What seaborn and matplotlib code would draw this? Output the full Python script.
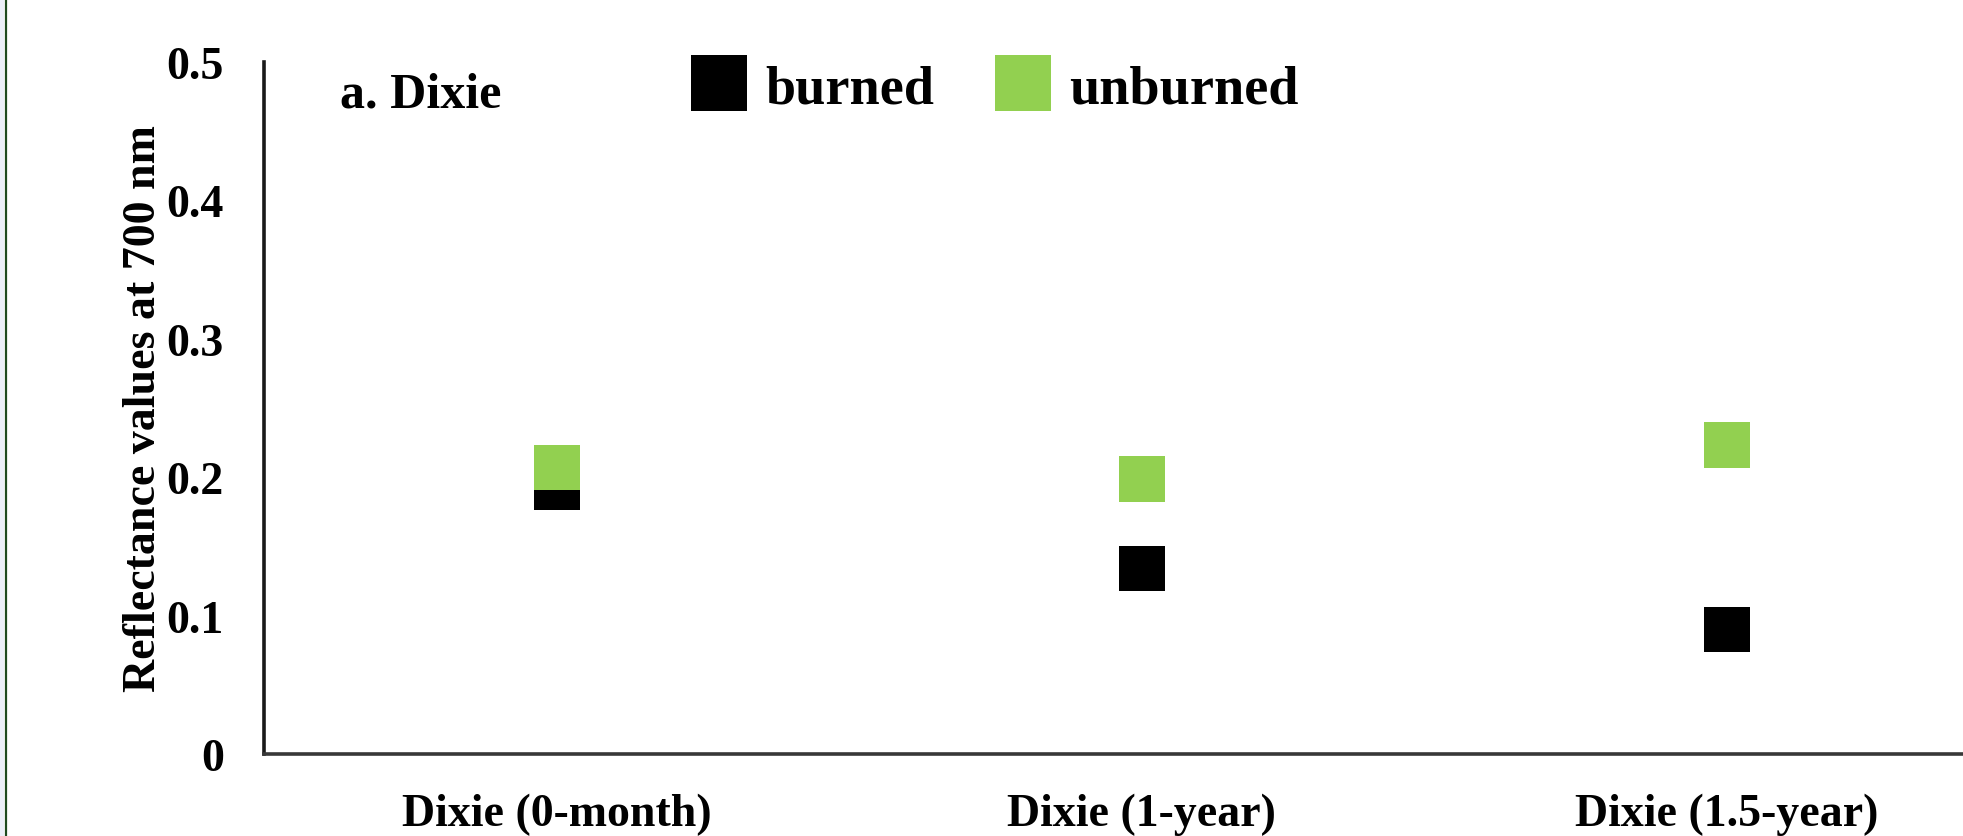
import matplotlib
matplotlib.use("Agg")
import matplotlib.pyplot as plt
import numpy as np
import pandas as pd
import seaborn as sns
from matplotlib.lines import Line2D
from matplotlib.patches import Rectangle
from matplotlib.ticker import MultipleLocator

# Reflectance at 700 nm for each sampling date
periods = ["Dixie (0-month)", "Dixie (1-year)", "Dixie (1.5-year)"]
conditions = ["burned", "unburned"]
burned = [0.193, 0.134, 0.090]
unburned = [0.207, 0.199, 0.223]
y_ticks = [0.0, 0.1, 0.2, 0.3, 0.4, 0.5]
y_tick_labels = ["0", "0.1", "0.2", "0.3", "0.4", "0.5"]
panel_title = "a. Dixie"
y_title = "Reflectance values at 700 nm"

colors = {"burned": "#000000", "unburned": "#92D050"}

# long-form table: burned rows first so unburned squares sit on top
df = pd.DataFrame({
    "period": periods + periods,
    "condition": ["burned"] * len(periods) + ["unburned"] * len(periods),
    "value": burned + unburned,
})

sns.set_theme(style="white")
plt.rcParams["font.family"] = ["Liberation Serif", "DejaVu Serif"]
plt.rcParams["font.weight"] = "bold"

W, H = 1963, 837
fig = plt.figure(figsize=(W / 100, H / 100), dpi=100)
ax_left, ax_right, ax_top, ax_bottom = 264, 1963, 63, 755
ax = fig.add_axes([ax_left / W, 1 - ax_bottom / H,
                   (ax_right - ax_left) / W, (ax_bottom - ax_top) / H])

sns.stripplot(data=df, x="period", y="value", hue="condition",
              order=periods, hue_order=conditions, palette=colors,
              marker="s", size=33, jitter=False, dodge=False,
              linewidth=0, legend=False, ax=ax)

ax.set_xlim(-0.5, 2.403)
ax.set_ylim(0, 0.5)
ax.set_yticks(y_ticks)
ax.set_yticklabels(y_tick_labels)
ax.yaxis.set_minor_locator(MultipleLocator(0.05))
ax.tick_params(axis="y", which="both", direction="in", length=10, width=2.2,
               color="#222222", pad=29, labelsize=33, labelcolor="#000000")
ax.tick_params(axis="x", length=0, pad=28, labelsize=33, labelcolor="#000000")
ax.set_xlabel("")
ax.set_ylabel(y_title, fontsize=33, fontweight="bold", color="#000000")
ax.yaxis.label.set_va("center")
ax.yaxis.set_label_coords((144 - ax_left) / (ax_right - ax_left), 0.5)

sns.despine(ax=ax)
for side in ("left", "bottom"):
    ax.spines[side].set_linewidth(2.6)
ax.spines["left"].set_color("#1a1a1a")
ax.spines["bottom"].set_color("#383838")
ax.grid(False)

# panel label
fig.text(340 / W, 1 - 107 / H, panel_title, fontsize=36, fontweight="bold",
         ha="left", va="baseline", color="#000000")

# legend with large square swatches
handles = [Line2D([], [], marker="s", linestyle="none", markersize=41,
                  markerfacecolor=colors[c], markeredgewidth=0)
           for c in conditions]
fig.legend(handles, conditions, loc="center left",
           bbox_to_anchor=(692 / W, 1 - 90 / H), ncol=2, frameon=False,
           fontsize=39, handlelength=1.0, handletextpad=0.35,
           columnspacing=1.14, borderpad=0, borderaxespad=0,
           labelcolor="#000000")

# thin frame strip on the left edge
fig.add_artist(Rectangle((0, 0), 4 / W, 1, transform=fig.transFigure,
                         color="#eceff8", lw=0))
fig.add_artist(Line2D([5.5 / W, 5.5 / W], [0, 1], transform=fig.transFigure,
                      color="#1f4a1f", lw=1.6))

fig.savefig("out.png", dpi=100)
